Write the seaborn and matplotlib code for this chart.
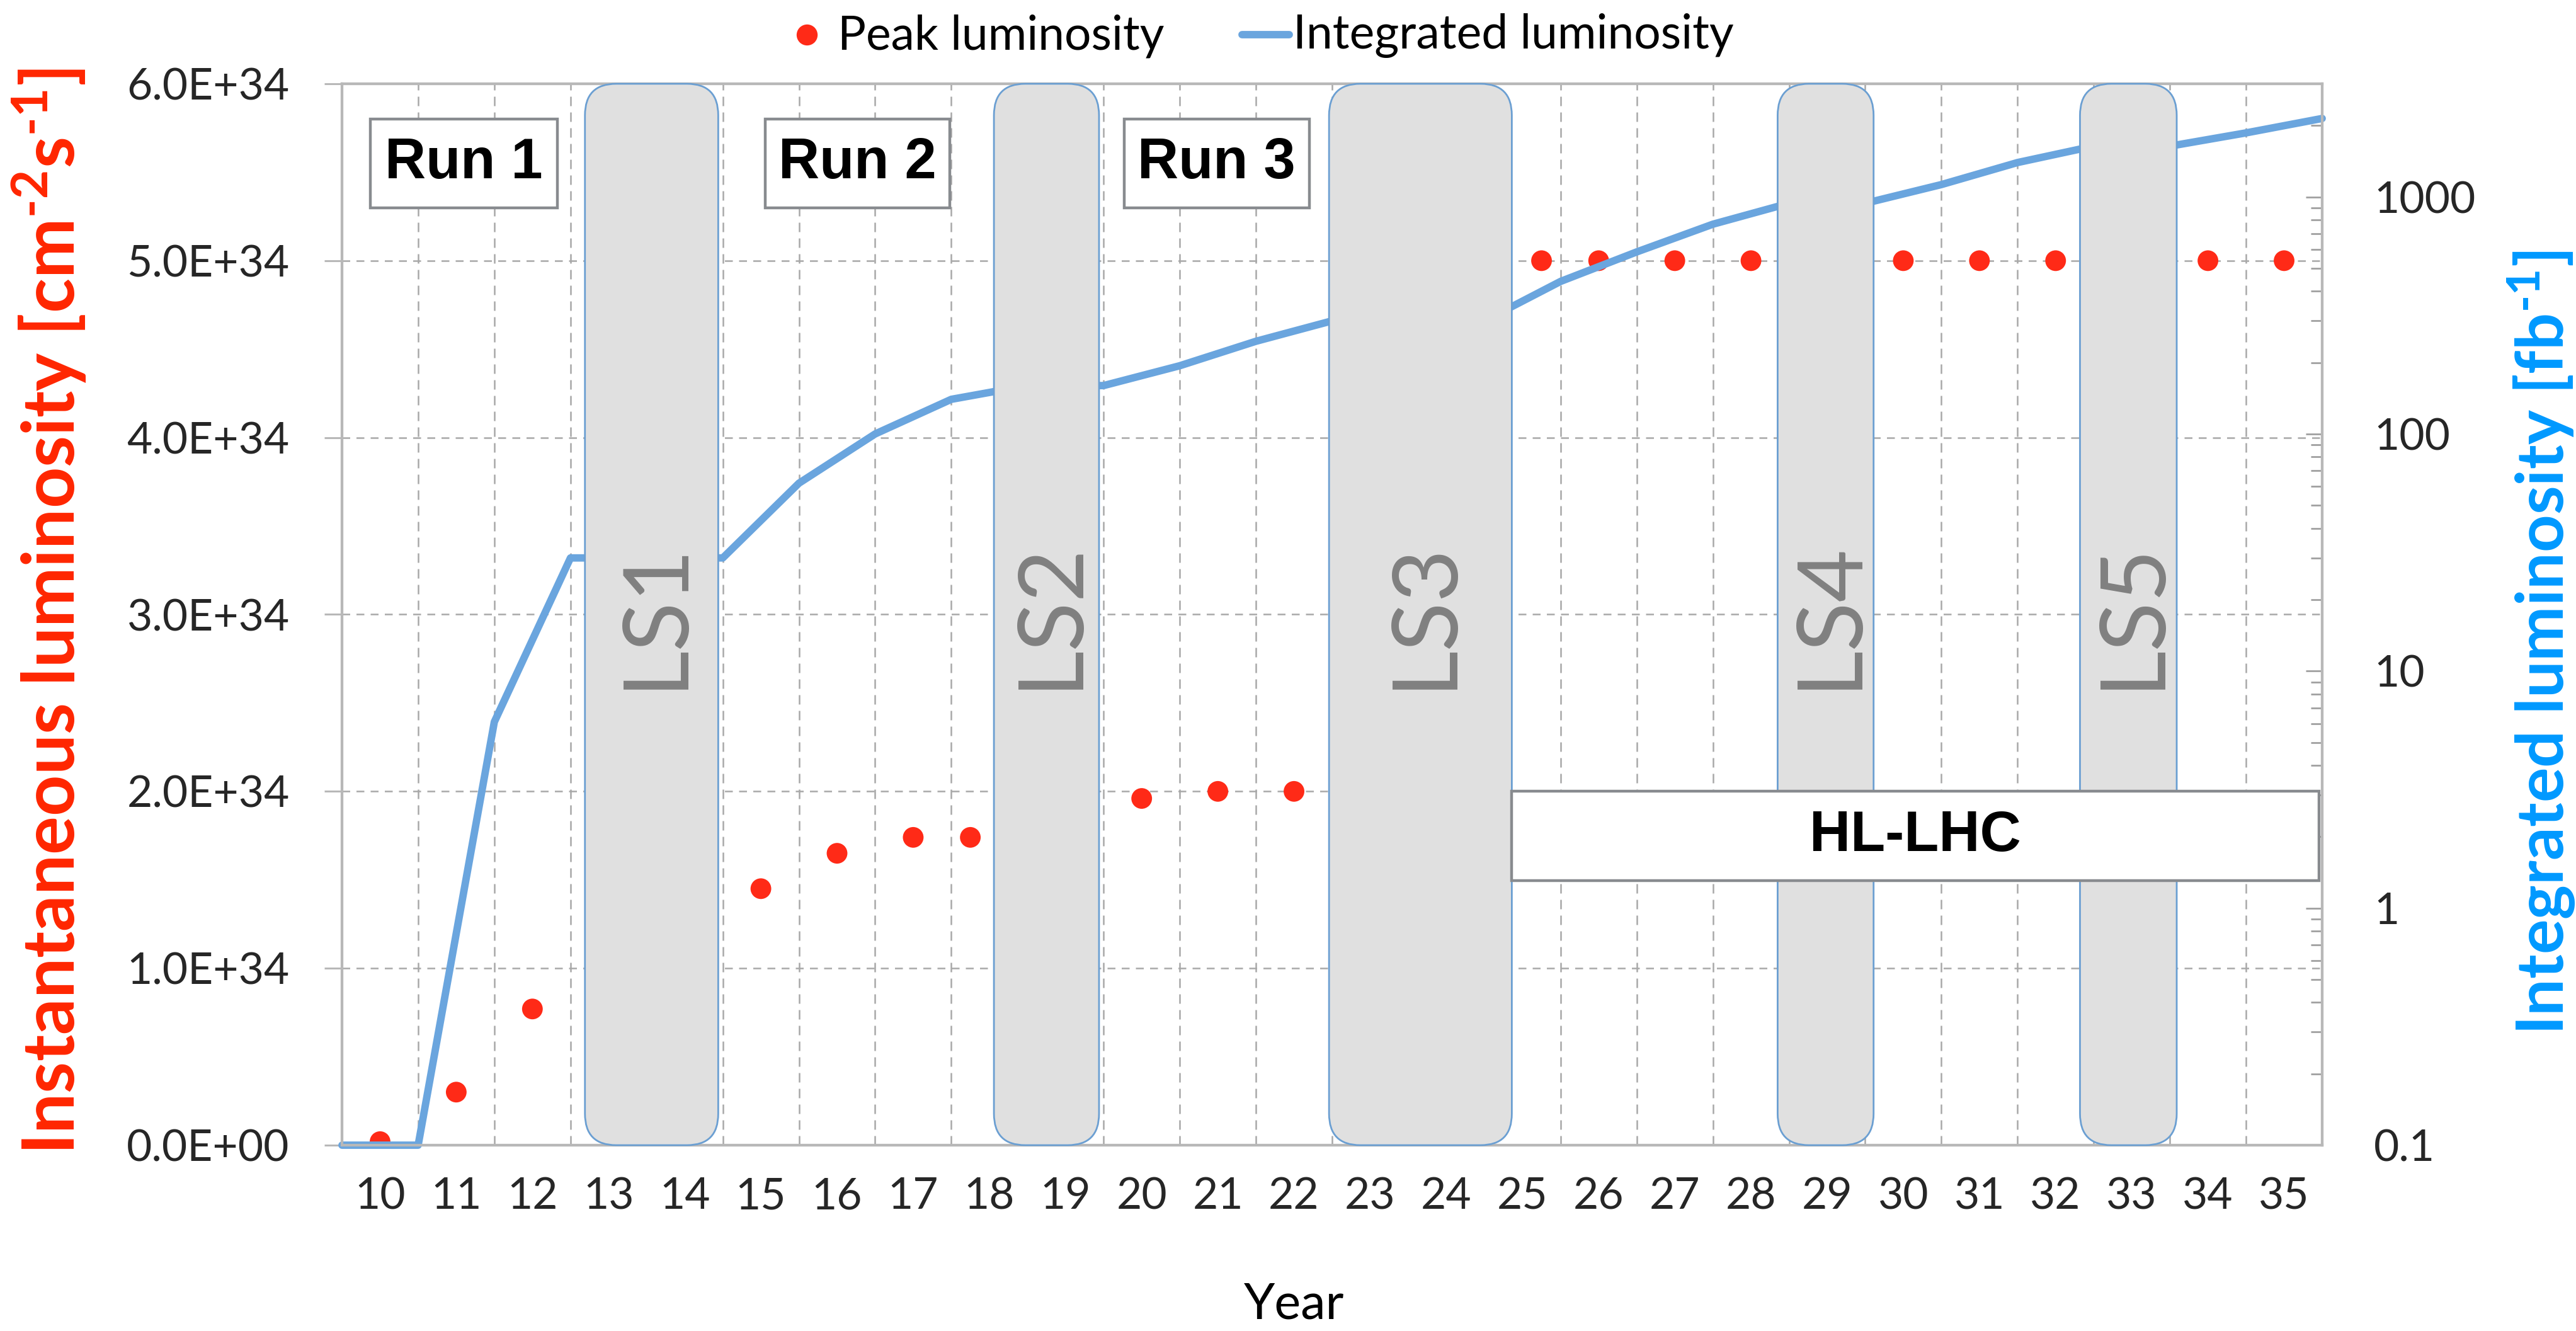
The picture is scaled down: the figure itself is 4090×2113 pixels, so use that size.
import numpy as np
import pandas as pd
import matplotlib
matplotlib.use("Agg")
import matplotlib.pyplot as plt
import matplotlib.transforms as mtransforms
from matplotlib.patches import FancyBboxPatch, Rectangle
from matplotlib.lines import Line2D
from matplotlib.ticker import FixedLocator, FuncFormatter, LogLocator, NullFormatter
import seaborn as sns

# ---------------- data ----------------
years = [10, 11, 12, 13, 14, 15, 16, 17, 18, 19, 20, 21, 22, 23, 24, 25,
         26, 27, 28, 29, 30, 31, 32, 33, 34, 35]
year_labels = [str(y) for y in years]

# peak luminosity (cm^-2 s^-1)
peak_years = [10, 11, 12, 15, 16, 17, 17.75, 20, 21, 22, 25.25, 26, 27, 28,
              30, 31, 32, 34, 35]
peak_lumi = [0.02e34, 0.30e34, 0.77e34, 1.45e34, 1.65e34, 1.74e34, 1.74e34,
             1.96e34, 2.00e34, 2.00e34, 5.0e34, 5.0e34, 5.0e34, 5.0e34,
             5.0e34, 5.0e34, 5.0e34, 5.0e34, 5.0e34]

# integrated luminosity (fb^-1), at the end of each year
int_years = [9.5, 10.5, 11.5, 12.5, 13.5, 14.5, 15.5, 16.5, 17.5, 18.5, 19.5,
             20.5, 21.5, 22.5, 23.5, 24.5, 25.5, 26.5, 27.5, 28.5, 29.5, 30.5,
             31.5, 32.5, 33.5, 34.5, 35.5]
int_lumi = [0.1, 0.1, 6.1, 30, 30, 30, 62, 100, 140, 160, 160, 194, 246, 300,
            300, 300, 440, 586, 767, 940, 940, 1127, 1396, 1637, 1637, 1862, 2142]

# long shutdowns
ls_labels = ["LS1", "LS2", "LS3", "LS4", "LS5"]
ls_start = [12.69, 18.06, 22.46, 28.35, 32.32]
ls_end = [14.44, 19.44, 24.86, 29.61, 33.59]

# run labels
run_labels = ["Run 1", "Run 2", "Run 3"]
run_start = [9.87, 15.06, 19.77]
run_end = [12.33, 17.48, 22.20]
hl_label = "HL-LHC"
hl_start, hl_end = 24.86, 35.46

left_ticks = [0, 1e34, 2e34, 3e34, 4e34, 5e34, 6e34]
right_ticks = [0.1, 1, 10, 100, 1000]

legend_labels = ["Peak luminosity", "Integrated luminosity"]

# ---------------- style ----------------
sns.set_style("white")
plt.rcParams['font.family'] = ['Lato', 'DejaVu Sans']
plt.rcParams['mathtext.default'] = 'regular'

RED = "#ff2a17"
RED_LABEL = "#ff2600"
BLUE_LINE = "#6aa5de"
BLUE_LABEL = "#0099ff"
GRID = "#a8a8a8"
SPINE = "#b8b8b8"
BOXEDGE = "#888b8f"

W, H = 4091, 2113
fig = plt.figure(figsize=(W / 100, H / 100), dpi=100)
L, R, B, T = 543 / W, 3687 / W, 1 - 1818 / H, 1 - 133 / H
ax = fig.add_axes([L, B, R - L, T - B])
ax2 = ax.twinx()

# peak luminosity dots
sns.scatterplot(x=peak_years, y=peak_lumi, ax=ax, color=RED, s=560,
                edgecolor='none', linewidth=0, zorder=3, legend=False)

# integrated luminosity line
df_int = pd.DataFrame({"year": int_years, "lumi": int_lumi})
sns.lineplot(data=df_int, x="year", y="lumi", ax=ax2, color=BLUE_LINE,
             linewidth=8.5, sort=False, estimator=None, legend=False,
             zorder=2, clip_on=False)

# axes ranges
ax.set_xlim(9.5, 35.5)
ax.set_ylim(0, 6e34)
ax2.set_yscale('log')
ax2.set_ylim(0.1, 3000)

# x ticks: boundaries (major) and labels at centres (minor)
ax.xaxis.set_major_locator(FixedLocator(int_years))
ax.xaxis.set_major_formatter(NullFormatter())
ax.set_xticks(years, minor=True)
ax.set_xticklabels(year_labels, minor=True)
ax.tick_params(axis='x', which='major', direction='out', length=18, width=2.2,
               color=SPINE)
ax.tick_params(axis='x', which='minor', length=0, pad=36, labelsize=50)

# left y
ax.set_yticks(left_ticks)
ax.yaxis.set_major_formatter(FuncFormatter(lambda v, p: f"{v:.1E}"))
ax.tick_params(axis='y', direction='out', length=20, width=2.2, color=SPINE,
               pad=40, labelsize=50)

# right y
ax2.yaxis.set_major_locator(FixedLocator(right_ticks))
ax2.yaxis.set_major_formatter(FuncFormatter(lambda v, p: f"{v:g}"))
ax2.yaxis.set_minor_locator(LogLocator(base=10, subs=np.arange(2, 10)))
ax2.yaxis.set_minor_formatter(NullFormatter())
ax2.tick_params(axis='y', which='major', direction='in', length=19, width=2,
                color="#a0a0a0", pad=59, labelsize=50)
ax2.tick_params(axis='y', which='minor', direction='in', length=13, width=2,
                color="#a0a0a0")
ax2.set_ylabel("")
ax2.set_xlabel("")
ax.set_xlabel("")
ax.set_ylabel("")

# grid
ax.grid(True, axis='x', which='major', color=GRID, linestyle=(0, (6, 4)),
        linewidth=1.8)
ax.grid(True, axis='y', which='major', color=GRID, linestyle=(0, (5, 4)),
        linewidth=1.8)
ax.set_axisbelow(True)

for a in (ax, ax2):
    for s in a.spines.values():
        s.set_color(SPINE)
        s.set_linewidth(3)

# ---------------- annotations ----------------
trans = mtransforms.blended_transform_factory(ax2.transData, ax2.transAxes)

# long shutdown boxes (rounded)
r_x = 0.41
aspect = 0.0297 / r_x
for lab, x0, x1 in zip(ls_labels, ls_start, ls_end):
    p = FancyBboxPatch((x0, 0.0), x1 - x0, 1.0,
                       boxstyle=f"round,pad=0,rounding_size={r_x}",
                       mutation_aspect=aspect, transform=trans,
                       facecolor="#e0e0e0", edgecolor="#6b9fd2",
                       linewidth=2, zorder=5, clip_on=False)
    ax2.add_patch(p)
    ax2.text((x0 + x1) / 2 + 0.05, 0.5, lab, transform=trans, rotation=90,
             ha='center', va='center', fontsize=104, color="#808080",
             zorder=6)

# run boxes
for lab, x0, x1 in zip(run_labels, run_start, run_end):
    ax2.add_patch(Rectangle((x0, 0.883), x1 - x0, 0.084, transform=trans,
                            facecolor='white', edgecolor=BOXEDGE,
                            linewidth=3.2, zorder=7))
    ax2.text((x0 + x1) / 2, 0.925, lab, transform=trans, ha='center',
             va='center', fontsize=65, fontweight='bold',
             family=['Liberation Sans', 'DejaVu Sans'], color='black', zorder=8)

# HL-LHC box
ax2.add_patch(Rectangle((hl_start, 0.249), hl_end - hl_start, 0.0845,
                        transform=trans, facecolor='white', edgecolor=BOXEDGE,
                        linewidth=3.2, zorder=7))
ax2.text((hl_start + hl_end) / 2, 0.291, hl_label, transform=trans,
         ha='center', va='center', fontsize=65, fontweight='bold',
         family=['Liberation Sans', 'DejaVu Sans'], color='black', zorder=8)

# ---------------- labels ----------------
fig.text(78 / W, 1 - 971 / H,
         "Instantaneous luminosity [cm$^{\u2010 2}$s$^{\u2010 1}$]",
         rotation=90, ha='center', va='center', fontsize=82,
         fontweight='bold', color=RED_LABEL)
fig.text(4035 / W, 1 - 1020 / H,
         "Integrated luminosity [fb$^{\u2010 1}$]", rotation=90,
         ha='center', va='center', fontsize=75, fontweight='bold',
         color=BLUE_LABEL)
fig.text(2055 / W, 1 - 2072 / H, "Year", ha='center', va='center',
         fontsize=57, color='black')

# legend (placed as in the original: top centre, no frame)
fig.add_artist(Line2D([1281 / W], [1 - 55 / H], transform=fig.transFigure,
                      color=RED, marker='o', markersize=24,
                      markeredgewidth=0, linestyle='none'))
fig.text(1330 / W, 1 - 57 / H, legend_labels[0], ha='left', va='center',
         fontsize=54, color='black')
fig.add_artist(Line2D([1972 / W, 2047 / W], [1 - 55 / H, 1 - 55 / H],
                      transform=fig.transFigure, color=BLUE_LINE,
                      linewidth=8.5, solid_capstyle='round'))
fig.text(2053 / W, 1 - 57 / H, legend_labels[1], ha='left', va='center',
         fontsize=54, color='black')

fig.savefig("out.png", dpi=100)
